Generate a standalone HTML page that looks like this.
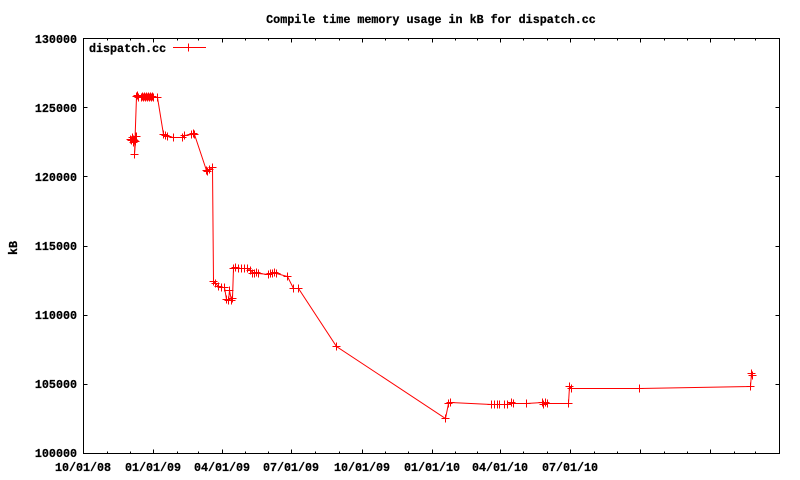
<!DOCTYPE html>
<html>
<head>
<meta charset="utf-8">
<style>
html,body{margin:0;padding:0;background:#fff;}
svg{display:block;}
text{font-family:"Liberation Mono","DejaVu Sans Mono",monospace;font-weight:bold;font-size:11.7px;fill:#000;stroke:#000;stroke-width:0.25px;}
</style>
</head>
<body>
<svg width="800" height="480" viewBox="0 0 800 480" xmlns="http://www.w3.org/2000/svg">
<defs>
<marker id="plus" markerUnits="userSpaceOnUse" markerWidth="10" markerHeight="10" refX="5" refY="5" viewBox="0 0 10 10" overflow="visible">
<path d="M1 5h8M5 1v8" stroke="#f00" stroke-width="1" fill="none"/>
</marker>
</defs>
<rect x="0" y="0" width="800" height="480" fill="#fff"/>
<text x="431" y="23" text-anchor="middle">Compile time memory usage in kB for dispatch.cc</text>
<text x="17" y="248" text-anchor="middle" transform="rotate(-90 17 248)">kB</text>

<g shape-rendering="crispEdges" stroke="#000" stroke-width="1" fill="none">
<rect x="83.5" y="38.5" width="696" height="415"/>
<path d="M83.5 107.5h4M83.5 176.5h4M83.5 246.5h4M83.5 315.5h4M83.5 384.5h4M779.5 107.5h-4M779.5 176.5h-4M779.5 246.5h-4M779.5 315.5h-4M779.5 384.5h-4"/>
<path d="M153.5 453.5v-4M222.5 453.5v-4M291.5 453.5v-4M362.5 453.5v-4M432.5 453.5v-4M500.5 453.5v-4M570.5 453.5v-4M640.5 453.5v-4M710.5 453.5v-4M153.5 38.5v4M222.5 38.5v4M291.5 38.5v4M362.5 38.5v4M432.5 38.5v4M500.5 38.5v4M570.5 38.5v4M640.5 38.5v4M710.5 38.5v4"/>
<path d="M107.5 453.5v-2M130.5 453.5v-2M177.5 453.5v-2M198.5 453.5v-2M245.5 453.5v-2M268.5 453.5v-2M315.5 453.5v-2M339.5 453.5v-2M385.5 453.5v-2M408.5 453.5v-2M455.5 453.5v-2M477.5 453.5v-2M523.5 453.5v-2M547.5 453.5v-2M594.5 453.5v-2M617.5 453.5v-2M664.5 453.5v-2M687.5 453.5v-2M734.5 453.5v-2M755.5 453.5v-2M107.5 38.5v2M130.5 38.5v2M177.5 38.5v2M198.5 38.5v2M245.5 38.5v2M268.5 38.5v2M315.5 38.5v2M339.5 38.5v2M385.5 38.5v2M408.5 38.5v2M455.5 38.5v2M477.5 38.5v2M523.5 38.5v2M547.5 38.5v2M594.5 38.5v2M617.5 38.5v2M664.5 38.5v2M687.5 38.5v2M734.5 38.5v2M755.5 38.5v2"/>
</g>

<g text-anchor="end">
<text x="77" y="43">130000</text>
<text x="77" y="112">125000</text>
<text x="77" y="181">120000</text>
<text x="77" y="250">115000</text>
<text x="77" y="319">110000</text>
<text x="77" y="388">105000</text>
<text x="77" y="457">100000</text>
</g>
<g text-anchor="middle">
<text x="83" y="471">10/01/08</text>
<text x="153" y="471">01/01/09</text>
<text x="222" y="471">04/01/09</text>
<text x="291" y="471">07/01/09</text>
<text x="362" y="471">10/01/09</text>
<text x="432" y="471">01/01/10</text>
<text x="500" y="471">04/01/10</text>
<text x="570" y="471">07/01/10</text>
</g>

<text x="89" y="52">dispatch.cc</text>
<path d="M173 47.5H206M188.5 43.5v8" stroke="#f00" stroke-width="1" fill="none" shape-rendering="crispEdges"/>

<polyline fill="none" stroke="#f00" stroke-width="1" marker-start="url(#plus)" marker-mid="url(#plus)" marker-end="url(#plus)" points="130.5,139.5 131.5,140.5 132.5,137.5 133.5,142.5 133.5,139.5 134.5,140.5 135.5,136.5 136.5,136.5 135.5,141.5 134.5,154.5 136.5,96.5 137.5,95.5 138.5,97.5 141.5,97.5 142.5,96.5 143.5,97.5 144.5,96.5 145.5,97.5 146.5,96.5 147.5,97.5 148.5,96.5 149.5,97.5 150.5,96.5 151.5,97.5 152.5,96.5 153.5,97.5 157.5,97.5 163.5,134.5 165.5,135.5 167.5,136.5 173.5,137.5 182.5,137.5 184.5,135.5 191.5,134.5 193.5,133.5 194.5,134.5 206.5,170.5 207.5,171.5 209.5,169.5 212.5,167.5 213.5,281.5 215.5,283.5 218.5,286.5 221.5,287.5 224.5,287.5 226.5,299.5 228.5,300.5 229.5,290.5 231.5,300.5 232.5,298.5 233.5,268.5 235.5,267.5 238.5,268.5 241.5,268.5 244.5,268.5 247.5,268.5 250.5,270.5 252.5,273.5 254.5,273.5 256.5,272.5 258.5,273.5 268.5,274.5 270.5,273.5 272.5,273.5 274.5,272.5 276.5,273.5 287.5,276.5 293.5,288.5 298.5,288.5 336.5,346.5 445.5,418.5 448.5,403.5 450.5,402.5 491.5,404.5 494.5,404.5 497.5,404.5 499.5,404.5 504.5,404.5 507.5,404.5 511.5,402.5 513.5,403.5 526.5,403.5 542.5,402.5 543.5,404.5 545.5,402.5 547.5,403.5 568.5,403.5 569.5,386.5 571.5,388.5 639.5,388.5 750.5,386.5 751.5,373.5 752.5,375.5"/>
</svg>
</body>
</html>
